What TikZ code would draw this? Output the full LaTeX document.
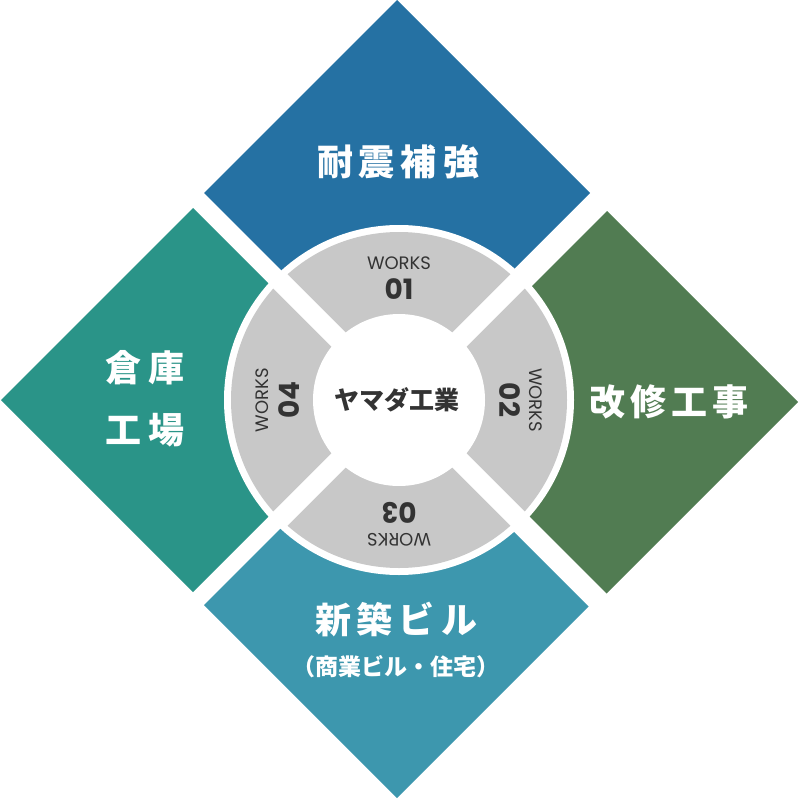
\documentclass[tikz,border=0pt]{standalone}
\usepackage{fontspec}
\newfontfamily\jp{Noto Sans CJK JP}
\newfontfamily\pop{Poppins}
\definecolor{cTop}{HTML}{2571A3}
\definecolor{cRight}{HTML}{517C52}
\definecolor{cBottom}{HTML}{3D97AE}
\definecolor{cLeft}{HTML}{2A9488}
\definecolor{cRing}{HTML}{C8C8C8}
\definecolor{cInk}{HTML}{333333}
\tikzset{
  bigjp/.style={text=white, font=\jp\bfseries\fontsize{36}{44}\selectfont, inner sep=0pt},
  smalljp/.style={text=white, font=\jp\bfseries\fontsize{23}{28}\selectfont, inner sep=0pt},
  centerjp/.style={text=cInk, font=\jp\bfseries\fontsize{25}{30}\selectfont, inner sep=0pt},
  workslbl/.style={text=cInk, font=\pop\fontsize{18}{22}\selectfont, inner sep=0pt},
  numlbl/.style={text=cInk, font=\pop\bfseries\fontsize{28}{32}\selectfont, inner sep=0pt},
  gapband/.style={white, line width=20pt},
}
\begin{document}
\begin{tikzpicture}[x=1pt,y=-1pt]
\useasboundingbox (0,0) rectangle (800,800);
\coordinate (C) at (399,400);
% four coloured squares
\fill[cTop] (397,0) -- (590,193) -- (397,386) -- (204,193) -- cycle;
\fill[cRight] (607,211) -- (798,402) -- (606.5,593.5) -- (415.5,402.5) -- cycle;
\fill[cBottom] (204,605) -- (395.5,413.5) -- (588.5,606.5) -- (397,798) -- cycle;
\fill[cLeft] (1,400) -- (193,208) -- (385,400) -- (193,592) -- cycle;
% ring
\fill[white] (C) circle[radius=175];
\fill[cRing] (C) circle[radius=168];
\draw[gapband] (279,280) -- (519,520);
\draw[gapband] (279,520) -- (519,280);
\fill[white] (C) circle[radius=86];
% labels of the squares
\node[bigjp] (t1) at (398,162) {耐\hspace{6pt}震\hspace{6pt}補\hspace{6pt}強};
\node[bigjp] (t2) at (669,402) {改\hspace{5pt}修\hspace{5pt}工\hspace{5pt}事};
\node[bigjp] (t4a) at (145,368) {倉\hspace{8pt}庫};
\node[bigjp] (t4b) at (145,430) {工\hspace{8pt}場};
\node[bigjp] (t3a) at (396,620) {新\hspace{6pt}築\hspace{6pt}ビ\hspace{6pt}ル};
\node[smalljp] (t3b) at (396,667) {（商業ビル・住宅）};
% centre
\node[centerjp] (ctr) at (397,400) {ヤマダ工業};
% works labels
\node[workslbl] (w1) at (399,263) {WORKS};
\node[numlbl] (n1) at (399,289) {01};
\node[workslbl, rotate=-90] (w2) at (536,400) {WORKS};
\node[numlbl, rotate=-90] (n2) at (510,400) {02};
\node[workslbl, rotate=180] (w3) at (399,540) {WORKS};
\node[numlbl, rotate=180] (n3) at (399,513) {03};
\node[workslbl, rotate=90] (w4) at (262,400) {WORKS};
\node[numlbl, rotate=90] (n4) at (289,400) {04};
\end{tikzpicture}
\end{document}
